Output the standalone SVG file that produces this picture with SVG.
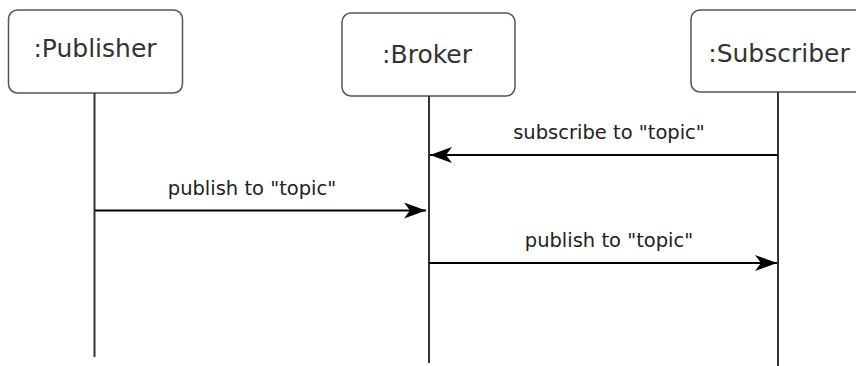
<svg xmlns="http://www.w3.org/2000/svg" width="856" height="366" viewBox="0 0 856 366">
  <style>
    .box { fill: #ffffff; stroke: #555555; stroke-width: 1.5; }
    .life { stroke: #333333; stroke-width: 2; fill: none; }
    .msg { stroke: #000000; stroke-width: 2; fill: none; }
    .name { font-family: "DejaVu Sans", Verdana, sans-serif; font-size: 25px; fill: #333333; text-anchor: middle; }
    .label { font-family: "DejaVu Sans", Verdana, sans-serif; font-size: 19.5px; fill: #222222; text-anchor: middle; }
  </style>
  <defs>
    <!-- filled stealth arrowhead shared by all messages -->
    <marker id="head" viewBox="0 0 22 16" refX="22" refY="8" markerWidth="22" markerHeight="16" markerUnits="userSpaceOnUse" orient="auto">
      <path d="M0,0 L22,8 L0,16 L6,8 Z" fill="#000000"/>
    </marker>
  </defs>
  <rect width="856" height="366" fill="#ffffff"/>

  <g id="publisher">
    <rect class="box" x="8.5" y="10" width="174" height="83" rx="9"/>
    <line class="life" x1="94.5" y1="93" x2="94.5" y2="357"/>
    <text class="name" x="95" y="57">:Publisher</text>
  </g>

  <g id="broker">
    <rect class="box" x="342" y="13" width="173" height="83" rx="9"/>
    <line class="life" x1="429" y1="96" x2="429" y2="363"/>
    <text class="name" x="427" y="63">:Broker</text>
  </g>

  <g id="subscriber">
    <rect class="box" x="691" y="10" width="174" height="82" rx="9"/>
    <line class="life" x1="778" y1="92" x2="778" y2="366"/>
    <text class="name" x="779" y="62">:Subscriber</text>
  </g>

  <g id="connectors">
    <line class="msg" x1="778" y1="155" x2="430" y2="155" marker-end="url(#head)"/>
    <text class="label" x="609" y="139">subscribe to "topic"</text>

    <line class="msg" x1="95" y1="210.5" x2="426" y2="210.5" marker-end="url(#head)"/>
    <text class="label" x="252" y="195">publish to "topic"</text>

    <line class="msg" x1="429" y1="263" x2="777" y2="263" marker-end="url(#head)"/>
    <text class="label" x="609" y="247">publish to "topic"</text>
  </g>
</svg>
